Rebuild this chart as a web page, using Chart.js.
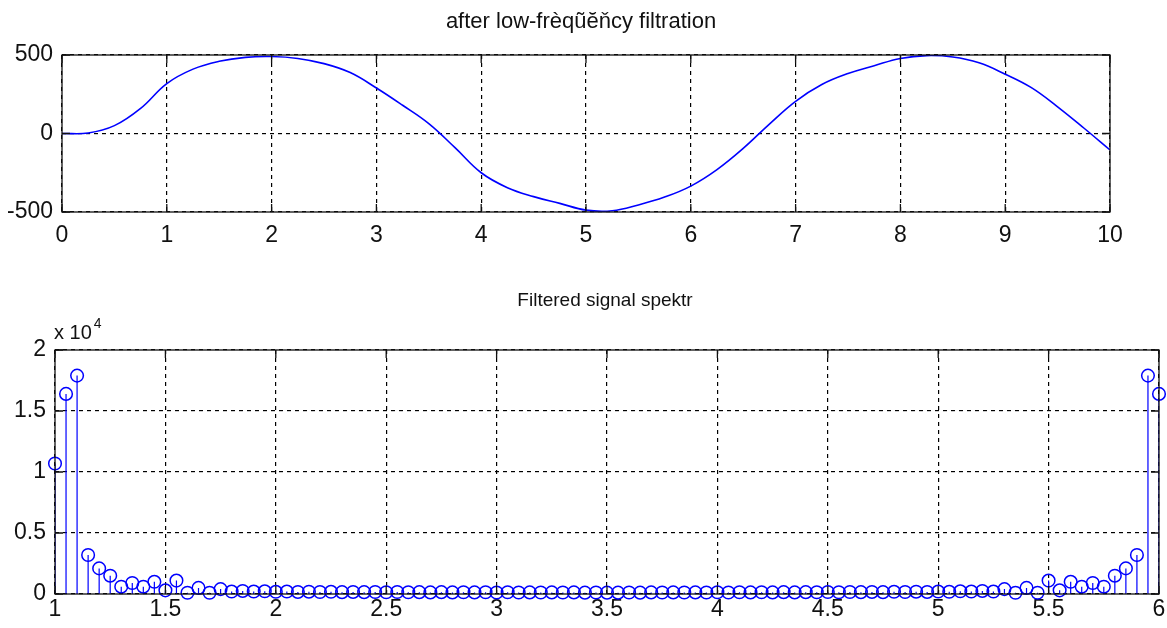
<!DOCTYPE html>
<html>
<head>
<meta charset="utf-8">
<script src="https://cdn.jsdelivr.net/npm/chart.js@4"></script>
<style>
  body { margin: 0; background: #fff; }
  .box { position: absolute; left: 0; width: 1167px; }
  #top { top: 0; height: 260px; }
  #bottom { top: 260px; height: 368px; }
</style>
</head>
<body>
<div class="box" id="top"><canvas id="signal" width="1167" height="260"></canvas></div>
<div class="box" id="bottom"><canvas id="spectrum" width="1167" height="368"></canvas></div>
<script>
// after low-frequency filtration (time axis 0..10)
const timeX = [0, 0.25, 0.5, 0.75, 1, 1.25, 1.5, 1.75, 2, 2.25, 2.5, 2.75, 3, 3.25, 3.5, 3.75,
  4, 4.25, 4.5, 4.75, 5, 5.25, 5.5, 5.75, 6, 6.25, 6.5, 6.75, 7, 7.25, 7.5, 7.75,
  8, 8.25, 8.5, 8.75, 9, 9.25, 9.5, 9.75, 10];
const signalY = [0, 3, 50, 160, 318, 410, 460, 485, 490, 478, 445, 388, 290, 180, 63, -90,
  -250, -345, -402, -445, -488, -492, -455, -405, -335, -230, -95, 60, 205, 312, 382, 432,
  478, 496, 487, 450, 378, 292, 170, 35, -105];
const signalTicksY = [-500, 0, 500];

// Filtered signal spektr
const freqX = [
  1.00, 1.05, 1.10, 1.15, 1.20, 1.25, 1.30, 1.35, 1.40, 1.45,
  1.50, 1.55, 1.60, 1.65, 1.70, 1.75, 1.80, 1.85, 1.90, 1.95,
  2.00, 2.05, 2.10, 2.15, 2.20, 2.25, 2.30, 2.35, 2.40, 2.45,
  2.50, 2.55, 2.60, 2.65, 2.70, 2.75, 2.80, 2.85, 2.90, 2.95,
  3.00, 3.05, 3.10, 3.15, 3.20, 3.25, 3.30, 3.35, 3.40, 3.45,
  3.50, 3.55, 3.60, 3.65, 3.70, 3.75, 3.80, 3.85, 3.90, 3.95,
  4.00, 4.05, 4.10, 4.15, 4.20, 4.25, 4.30, 4.35, 4.40, 4.45,
  4.50, 4.55, 4.60, 4.65, 4.70, 4.75, 4.80, 4.85, 4.90, 4.95,
  5.00, 5.05, 5.10, 5.15, 5.20, 5.25, 5.30, 5.35, 5.40, 5.45,
  5.50, 5.55, 5.60, 5.65, 5.70, 5.75, 5.80, 5.85, 5.90, 5.95,
  6.00];
const spectrumY = [
  10700, 16400, 17900, 3200, 2100, 1500, 600, 900, 600, 1000,
  300, 1100, 100, 500, 100, 400, 200, 250, 200, 220,
  180, 200, 170, 190, 160, 180, 150, 170, 150, 160,
  140, 160, 140, 150, 130, 150, 130, 140, 130, 140,
  120, 140, 120, 130, 120, 130, 120, 130, 110, 120,
  110, 110, 120, 110, 130, 120, 130, 120, 130, 120,
  140, 120, 140, 130, 140, 130, 150, 130, 150, 140,
  160, 140, 160, 150, 170, 150, 180, 160, 190, 170,
  200, 180, 220, 200, 250, 200, 400, 100, 500, 100,
  1100, 300, 1000, 600, 900, 600, 1500, 2100, 3200, 17900,
  16400];

const FONT = "'Liberation Sans', Arial, sans-serif";
const BLUE = '#0000ff';

// matlab-like box with inward ticks, title and exponent label
const boxPlugin = {
  id: 'box',
  afterDraw(chart) {
    const { ctx, chartArea: a, scales } = chart;
    const opts = chart.options.plugins.box || {};
    ctx.save();
    ctx.strokeStyle = '#111';
    ctx.lineWidth = 1.3;
    ctx.setLineDash([]);
    ctx.strokeRect(a.left, a.top, a.right - a.left, a.bottom - a.top);
    const len = 8;
    ctx.beginPath();
    scales.x.ticks.forEach(t => {
      const px = scales.x.getPixelForValue(t.value);
      ctx.moveTo(px, a.bottom); ctx.lineTo(px, a.bottom - len);
      ctx.moveTo(px, a.top); ctx.lineTo(px, a.top + len);
    });
    scales.y.ticks.forEach(t => {
      const py = scales.y.getPixelForValue(t.value);
      ctx.moveTo(a.left, py); ctx.lineTo(a.left + len, py);
      ctx.moveTo(a.right, py); ctx.lineTo(a.right - len, py);
    });
    ctx.stroke();

    ctx.fillStyle = '#111';
    if (opts.title) {
      ctx.font = opts.titleSize + 'px ' + FONT;
      ctx.textAlign = 'center';
      ctx.textBaseline = 'middle';
      ctx.fillText(opts.title, (a.left + a.right) / 2 + opts.titleShift, a.top - opts.titleGap);
    }
    if (opts.exponent) {
      ctx.textBaseline = 'alphabetic';
      ctx.textAlign = 'left';
      ctx.font = '20px ' + FONT;
      ctx.fillText('x 10', a.left - 1, a.top - 11);
      const w = ctx.measureText('x 10').width;
      ctx.font = '14px ' + FONT;
      ctx.fillText('4', a.left - 1 + w + 2, a.top - 22);
    }
    ctx.restore();
  }
};

const axisCommon = (min, max, step, fixH, padX) => ({
  type: 'linear',
  min: min, max: max,
  offset: false,
  grid: { color: '#000', lineWidth: 1.2, drawTicks: false },
  border: { display: false, dash: [4, 4] },
  ticks: {
    stepSize: step, autoSkip: false, maxRotation: 0,
    color: '#111', padding: padX,
    font: { family: FONT, size: 23 },
    callback: v => String(Number(v))
  },
  afterFit(scale) {
    scale.paddingLeft = 0; scale.paddingRight = 0;
    scale.height = fixH;
  }
});

const yCommon = (min, max, step, fixW, cb) => ({
  type: 'linear',
  min: min, max: max,
  grid: { color: '#000', lineWidth: 1.2, drawTicks: false },
  border: { display: false, dash: [4, 4] },
  ticks: {
    stepSize: step, color: '#111', padding: 9,
    font: { family: FONT, size: 23 },
    callback: cb
  },
  afterFit(scale) {
    scale.paddingTop = 0; scale.paddingBottom = 0;
    scale.width = fixW;
  }
});

new Chart(document.getElementById('signal'), {
  type: 'line',
  data: {
    datasets: [{
      data: timeX.map((x, i) => ({ x: x, y: signalY[i] })),
      borderColor: BLUE,
      borderWidth: 1.6,
      pointRadius: 0,
      tension: 0.4,
      fill: false
    }]
  },
  options: {
    responsive: false,
    animation: false,
    layout: { padding: { left: 0, right: 57, top: 55, bottom: 0 } },
    scales: {
      x: axisCommon(0, 10, 1, 48, 10),
      y: Object.assign(yCommon(-500, 500, 500, 62, v => String(v)), {
        afterBuildTicks(scale) { scale.ticks = signalTicksY.map(v => ({ value: v })); }
      })
    },
    plugins: {
      legend: { display: false },
      tooltip: { enabled: false },
      title: { display: false },
      box: { title: 'after low-frèqũĕňcy filtration', titleSize: 22, titleShift: -5, titleGap: 33 }
    }
  },
  plugins: [boxPlugin]
});

// stems: baseline -> value, broken by gaps
const stemPoints = [];
freqX.forEach((x, i) => {
  stemPoints.push({ x: x, y: 0 });
  stemPoints.push({ x: x, y: spectrumY[i] });
  stemPoints.push({ x: x, y: null });
});

new Chart(document.getElementById('spectrum'), {
  type: 'line',
  data: {
    datasets: [{
      data: stemPoints,
      borderColor: BLUE,
      borderWidth: 1.2,
      pointRadius: 0,
      spanGaps: false,
      tension: 0,
      fill: false
    }, {
      data: freqX.map((x, i) => ({ x: x, y: spectrumY[i] })),
      showLine: false,
      pointStyle: 'circle',
      pointRadius: 6.3,
      pointBorderWidth: 1.5,
      pointBorderColor: BLUE,
      pointBackgroundColor: 'rgba(0,0,0,0)',
      clip: false
    }]
  },
  options: {
    responsive: false,
    animation: false,
    layout: { padding: { left: 0, right: 8, top: 90, bottom: 0 } },
    scales: {
      x: axisCommon(1, 6, 0.5, 34, 2),
      y: yCommon(0, 20000, 5000, 55, v => String(v / 10000))
    },
    plugins: {
      legend: { display: false },
      tooltip: { enabled: false },
      title: { display: false },
      box: { exponent: true, title: 'Filtered signal spektr', titleSize: 19, titleShift: -2, titleGap: 49 }
    }
  },
  plugins: [boxPlugin]
});
</script>
</body>
</html>
